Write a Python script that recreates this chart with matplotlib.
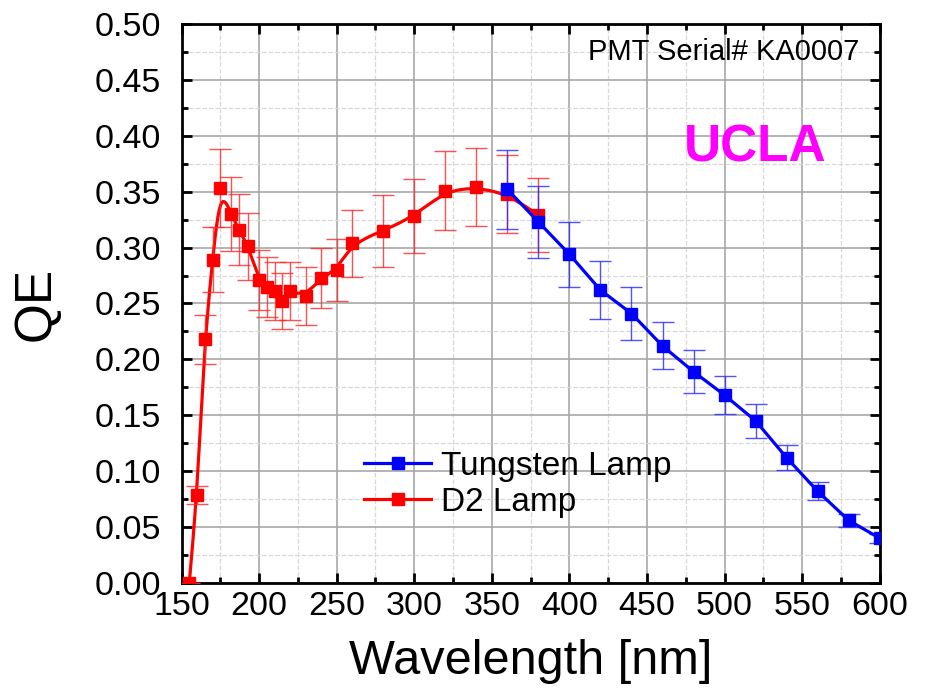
import numpy as np
import matplotlib
matplotlib.use("Agg")
import matplotlib.pyplot as plt
from matplotlib.ticker import MultipleLocator, FormatStrFormatter

plt.rcParams['font.family'] = ['Liberation Sans', 'DejaVu Sans']

# D2 lamp measurements
d2_wl = [155, 160, 165, 170, 175, 182, 187, 193, 200, 205, 210, 215, 220,
         230, 240, 250, 260, 280, 300, 320, 340, 360, 380]
d2_qe = [0.000, 0.079, 0.218, 0.289, 0.353, 0.330, 0.316, 0.301, 0.271, 0.265,
         0.261, 0.252, 0.261, 0.257, 0.273, 0.280, 0.304, 0.315, 0.328, 0.351,
         0.354, 0.348, 0.329]
d2_err = [0.000, 0.008, 0.022, 0.029, 0.035, 0.033, 0.032, 0.030, 0.027, 0.027,
          0.026, 0.025, 0.026, 0.026, 0.027, 0.028, 0.030, 0.032, 0.033, 0.035,
          0.035, 0.035, 0.033]

# Tungsten lamp measurements
w_wl = [360, 380, 400, 420, 440, 460, 480, 500, 520, 540, 560, 580, 600]
w_qe = [0.352, 0.323, 0.294, 0.262, 0.241, 0.212, 0.189, 0.168, 0.145, 0.112,
        0.082, 0.056, 0.040]
w_err = [0.035, 0.032, 0.029, 0.026, 0.024, 0.021, 0.019, 0.017, 0.015, 0.011,
         0.008, 0.006, 0.004]


def bspline(x, y, n=25):
    # uniform cubic B-spline, endpoints clamped (like Origin's B-spline connect)
    x = np.r_[x[0], x[0], x, x[-1], x[-1]].astype(float)
    y = np.r_[y[0], y[0], y, y[-1], y[-1]].astype(float)
    t = np.linspace(0, 1, n)
    b0 = (1 - t) ** 3 / 6
    b1 = (3 * t ** 3 - 6 * t ** 2 + 4) / 6
    b2 = (-3 * t ** 3 + 3 * t ** 2 + 3 * t + 1) / 6
    b3 = t ** 3 / 6
    xs, ys = [], []
    for i in range(len(x) - 3):
        xs.append(b0 * x[i] + b1 * x[i + 1] + b2 * x[i + 2] + b3 * x[i + 3])
        ys.append(b0 * y[i] + b1 * y[i + 1] + b2 * y[i + 2] + b3 * y[i + 3])
    return np.concatenate(xs), np.concatenate(ys)


fig = plt.figure(figsize=(9.28, 6.94), dpi=100)
ax = fig.add_axes([0.1956, 0.160, 0.7524, 0.8054])

# D2 lamp
sx, sy = bspline(d2_wl, d2_qe)
ax.plot(sx, sy, color='red', lw=2.3, zorder=3)
ax.errorbar(d2_wl, d2_qe, yerr=d2_err, fmt='none', ecolor=(1, 0.15, 0.15, 0.8),
            elinewidth=1, capsize=8, capthick=1, zorder=3)
ax.plot(d2_wl, d2_qe, 's', color='red', ms=8.5, zorder=4)

# Tungsten lamp
ax.errorbar(w_wl, w_qe, yerr=w_err, fmt='none', ecolor=(0.15, 0.15, 1, 0.8),
            elinewidth=1, capsize=8, capthick=1, zorder=5)
ax.plot(w_wl, w_qe, '-s', color='blue', lw=2.3, ms=8.5, zorder=6)

# legend proxies
h1, = ax.plot([], [], '-s', color='blue', lw=2.3, ms=8.5, label='Tungsten Lamp')
h2, = ax.plot([], [], '-s', color='red', lw=2.3, ms=8.5, label='D2 Lamp')
ax.legend(handles=[h1, h2], loc='center left', bbox_to_anchor=(0.238, 0.176),
          frameon=False, fontsize=24, handlelength=2.0, handletextpad=0.3,
          labelspacing=0.15, borderpad=0)

ax.set_xlim(150, 600)
ax.set_ylim(0, 0.5)
ax.xaxis.set_major_locator(MultipleLocator(50))
ax.xaxis.set_minor_locator(MultipleLocator(25))
ax.yaxis.set_major_locator(MultipleLocator(0.05))
ax.yaxis.set_minor_locator(MultipleLocator(0.025))
ax.yaxis.set_major_formatter(FormatStrFormatter('%.2f'))

ax.grid(True, which='major', color='#a8a8a8', lw=1.2, ls='-')
ax.grid(True, which='minor', color='#d8d8d8', lw=0.9, ls='--')
ax.set_axisbelow(True)

ax.tick_params(which='both', direction='in', top=True, right=True,
               labelsize=24.5, width=2)
ax.tick_params(which='major', length=7)
ax.tick_params(which='minor', length=4)
ax.tick_params(axis='x', which='major', pad=6)
ax.tick_params(axis='y', which='major', pad=15)
for s in ax.spines.values():
    s.set_linewidth(2)

ax.set_xlabel('Wavelength [nm]', fontsize=35, labelpad=12)
ax.set_ylabel('QE', fontsize=37, labelpad=24)

ax.text(0.971, 0.95, 'PMT Serial# KA0007', transform=ax.transAxes,
        ha='right', va='center', fontsize=21)
ax.text(0.821, 0.778, 'UCLA', transform=ax.transAxes, ha='center',
        va='center', fontsize=37, fontweight='bold', color='magenta',
        family=['Liberation Sans Narrow', 'Liberation Sans'])

fig.savefig('out.png', dpi=100)
